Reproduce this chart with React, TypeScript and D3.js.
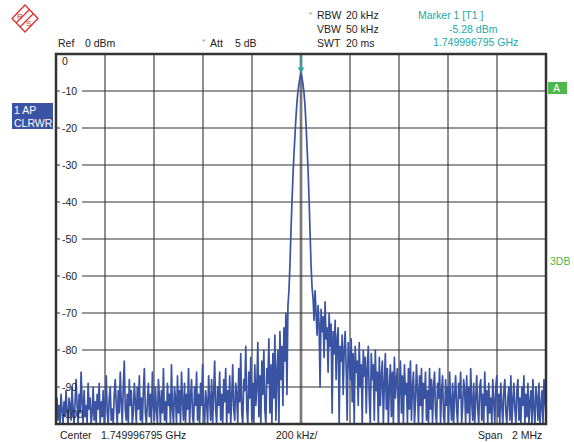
import React from "react";
import * as d3 from "d3";

// spectrum analyzer trace, dBm, 489 sweep points across the 2 MHz span
const traceDb = [
  -97, -93, -99, -95, -100, -92, -96, -100, -94, -98, -91, -97, -100, -93, -95, -99, -90, -96, -100, -94,
  -88, -95, -100, -92, -97, -86, -94, -100, -91, -98, -95, -100, -89, -96, -93, -100, -97, -90, -99, -94,
  -100, -92, -96, -89, -100, -94, -98, -91, -100, -95, -87, -97, -100, -93, -90, -99, -96, -100, -92, -88,
  -95, -100, -91, -97, -86, -94, -100, -90, -83, -96, -99, -92, -100, -88, -95, -91, -100, -97, -89, -94,
  -100, -90, -96, -87, -99, -93, -100, -91, -85, -97, -100, -94, -89, -98, -92, -100, -86, -95, -99, -90,
  -96, -100, -88, -93, -100, -91, -97, -85, -99, -94, -100, -89, -95, -92, -100, -84, -96, -100, -90, -93,
  -100, -87, -97, -91, -100, -86, -94, -99, -89, -100, -92, -96, -85, -100, -93, -88, -98, -100, -90, -95,
  -86, -99, -92, -100, -89, -95, -84, -97, -100, -91, -94, -100, -87, -93, -99, -88, -100, -92, -83, -96,
  -100, -90, -95, -86, -99, -92, -100, -88, -94, -85, -100, -91, -97, -87, -100, -93, -84, -96, -99, -89,
  -92, -100, -85, -94, -81, -97, -100, -88, -91, -79, -96, -100, -86, -93, -82, -99, -89, -100, -84, -95,
  -90, -78, -98, -87, -100, -83, -92, -80, -96, -100, -85, -89, -77, -97, -84, -100, -81, -93, -76, -99,
  -86, -80, -100, -75, -88, -79, -95, -74, -83, -70, -92, -68, -64, -57,
  -48, -40, -33, -27, -22, -17, -13, -10, -8, -6.3, -5.28, -6.4, -8.2, -10.5, -14, -19, -25, -31, -39, -48, -57, -63,
  -66, -72, -64, -70, -76, -68, -73, -90, -69, -75, -71, -82, -67, -77, -74, -86, -70, -79, -73, -97,
  -75, -81, -72, -88, -77, -74, -100, -79, -83, -76, -92, -80, -75, -85, -99, -78, -82, -88, -77, -94,
  -81, -100, -79, -86, -83, -95, -78, -90, -84, -100, -80, -87, -82, -97, -85, -79, -93, -100, -81, -88,
  -84, -99, -80, -91, -86, -100, -82, -95, -87, -83, -100, -89, -81, -96, -85, -100, -90, -84, -98, -86,
  -100, -82, -93, -88, -85, -100, -91, -83, -97, -87, -100, -84, -92, -89, -100, -85, -96, -83, -99, -90,
  -86, -100, -94, -84, -91, -100, -87, -95, -85, -100, -89, -93, -86, -99, -91, -100, -85, -96, -88, -100,
  -90, -86, -97, -100, -89, -93, -85, -100, -91, -87, -98, -100, -88, -95, -90, -100, -86, -94, -99, -89,
  -100, -92, -87, -96, -100, -89, -93, -86, -100, -95, -88, -91, -100, -87, -97, -90, -100, -85, -94, -99,
  -89, -100, -93, -87, -96, -100, -90, -88, -99, -92, -100, -86, -95, -91, -100, -89, -97, -93, -100, -88,
  -94, -100, -90, -87, -98, -92, -100, -89, -95, -100, -91, -88, -97, -100, -93, -90, -99, -87, -100, -94,
  -89, -96, -100, -91, -88, -99, -93, -100, -90, -95, -87, -100, -92, -98, -89, -100, -94, -91, -100, -88,
  -96, -100, -90, -93, -99, -89, -100, -95, -91, -100, -88, -94, -97,
];

const levelTicks = [0, -10, -20, -30, -40, -50, -60, -70, -80, -90, -100];
const freqTicksKHz = [-1000, -800, -600, -400, -200, 0, 200, 400, 600, 800, 1000];
const spanKHz = 2000;
const markerKHz = 0;
const markerDb = -5.28;

const setupLeft = ["RBW", "VBW", "SWT"];
const setupRight = ["20 kHz", "50 kHz", "20 ms"];
const markerLines = ["Marker 1 [T1 ]", "-5.28 dBm", "1.749996795 GHz"];

const blue = "#3b53a3";
const teal = "#23a7a7";
const green = "#4cb84c";
const red = "#d8312b";
const font = "'Liberation Sans', Arial, sans-serif";

export default function App() {
  const left = 56, right = 546, top = 54, bottom = 424;
  const x = d3.scaleLinear().domain([-spanKHz / 2, spanKHz / 2]).range([left, right]);
  const y = d3.scaleLinear().domain([-100, 0]).range([bottom, top]);

  const n = traceDb.length;
  const pts: [number, number][] = traceDb.map((v, i) => [
    -spanKHz / 2 + (i * spanKHz) / (n - 1),
    Math.max(-100, v),
  ]);
  const line = d3.line<[number, number]>().x(d => x(d[0])).y(d => y(d[1]));

  const mx = x(markerKHz);
  const my = y(markerDb);

  const labelY = (l: number) => (l === 0 ? y(l) + 11 : l === -100 ? y(l) - 6 : y(l) + 4);

  return (
    <svg width={574} height={442} style={{ position: "absolute", left: 0, top: 0, background: "#fff" }}
      fontFamily={font} fontSize={10.5} fill="#222">
      {/* R&S logo */}
      <g stroke={red} fill="none" strokeWidth={1.3}>
        <path d="M25,5L38,18.5L25,32L12,18.5Z" />
        <line x1={29} y1={10} x2={16} y2={23} />
        <line x1={33} y1={14} x2={20} y2={27} />
        <text x={17} y={19} fontSize={8} fill={red} stroke="none">R</text>
        <text x={26} y={26} fontSize={8} fill={red} stroke="none">S</text>
      </g>

      {/* header */}
      <text x={58} y={47}>Ref</text>
      <text x={85} y={47}>0 dBm</text>
      <text x={202} y={44} fill={green} fontSize={8}>*</text>
      <text x={210} y={47}>Att</text>
      <text x={235} y={47}>5 dB</text>
      <text x={309} y={17} fill={green} fontSize={8}>*</text>
      {setupLeft.map((s, i) => (
        <text key={s} x={317} y={19 + i * 14}>{s}</text>
      ))}
      {setupRight.map((s, i) => (
        <text key={s} x={346} y={19 + i * 14}>{s}</text>
      ))}
      <text x={418} y={19} fill={teal}>{markerLines[0]}</text>
      <text x={449} y={33} fill={teal}>{markerLines[1]}</text>
      <text x={433} y={46} fill={teal}>{markerLines[2]}</text>

      {/* grid */}
      <rect x={mx - 2} y={top} width={4} height={bottom - top} fill="#d0d0d0" />
      {freqTicksKHz.slice(1, -1).map(f => (
        <line key={f} x1={x(f)} x2={x(f)} y1={top} y2={bottom} stroke="#333" strokeWidth={1.1} />
      ))}
      {levelTicks.slice(1, -1).map(l => (
        <line key={l} x1={left} x2={right} y1={y(l)} y2={y(l)} stroke="#333" strokeWidth={1.1} />
      ))}
      {levelTicks.slice(1, -1).map(l => (
        <rect key={l} x={60} y={y(l) - 5} width={22} height={10} fill="#fff" />
      ))}

      {/* trace */}
      <defs>
        <clipPath id="plot">
          <rect x={left} y={top} width={right - left} height={bottom - top} />
        </clipPath>
      </defs>
      <path d={line(pts) || ""} fill="none" stroke={blue} strokeWidth={1.7}
        strokeLinejoin="round" clipPath="url(#plot)" />

      {/* level labels */}
      {levelTicks.map(l => (
        <text key={l} x={62} y={labelY(l)}>{l}</text>
      ))}

      {/* marker */}
      <line x1={mx} x2={mx} y1={top} y2={my - 3} stroke={teal} strokeWidth={1} />
      <text x={mx} y={62} fontSize={8} fill={teal} textAnchor="middle">1</text>
      <path d={`M${mx - 3.5},${my - 6}L${mx + 3.5},${my - 6}L${mx},${my - 1}Z`} fill={teal} />

      {/* frame */}
      <rect x={left} y={top} width={right - left} height={bottom - top} fill="none" stroke="#333" strokeWidth={2.5} />

      {/* side annotations */}
      <rect x={12} y={103} width={41} height={26} fill={blue} />
      <text x={14} y={114} fill="#fff">1 AP</text>
      <text x={14} y={127} fill="#fff">CLRWR</text>
      <rect x={548} y={82} width={19} height={12} fill={green} />
      <text x={553} y={92} fill="#fff">A</text>
      <text x={550} y={265} fill={green}>3DB</text>

      {/* footer */}
      <text x={60} y={439}>Center</text>
      <text x={101} y={439}>1.749996795 GHz</text>
      <text x={276} y={439}>200 kHz/</text>
      <text x={478} y={439}>Span</text>
      <text x={512} y={439}>2 MHz</text>
    </svg>
  );
}
